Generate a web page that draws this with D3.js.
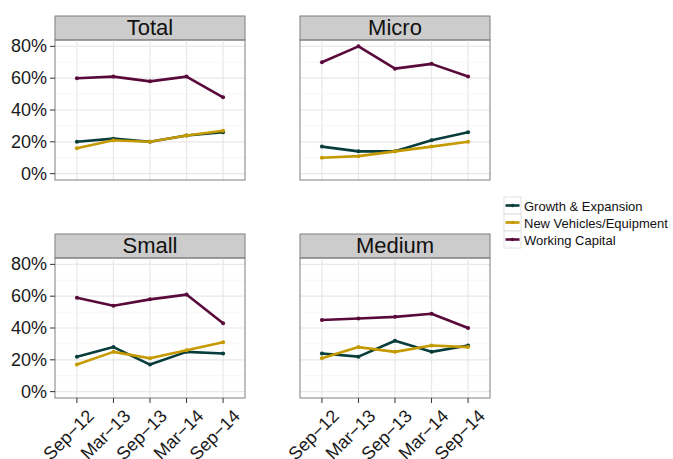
<!DOCTYPE html>
<html>
<head>
<meta charset="utf-8">
<script src="https://cdn.jsdelivr.net/npm/d3@7"></script>
<style>
  body { margin: 0; background: #fff; }
  svg { font-family: "Liberation Sans", Arial, sans-serif; }
</style>
</head>
<body>
<svg id="chart" width="673" height="459"></svg>
<script>
// data
const periods = ["Sep\u221212", "Mar\u221213", "Sep\u221213", "Mar\u221214", "Sep\u221214"]
const facets = ["Total", "Micro", "Small", "Medium"]
const seriesNames = ["Growth & Expansion", "New Vehicles/Equipment", "Working Capital"]
const seriesColors = ["#083d3b", "#c49a00", "#590a3a"]

const growth = {
    Total: [20, 22, 20, 24, 26],
    Micro: [17, 14, 14, 21, 26],
    Small: [22, 28, 17, 25, 24],
    Medium: [24, 22, 32, 25, 29],
}
const vehicles = {
    Total: [16, 21, 20, 24, 27],
    Micro: [10, 11, 14, 17, 20],
    Small: [17, 25, 21, 26, 31],
    Medium: [21, 28, 25, 29, 28],
}
const working = {
    Total: [60, 61, 58, 61, 48],
    Micro: [70, 80, 66, 69, 61],
    Small: [59, 54, 58, 61, 43],
    Medium: [45, 46, 47, 49, 40],
}
const allSeries = [growth, vehicles, working]

const yTicks = [0, 20, 40, 60, 80]
const yMinor = [10, 30, 50, 70]

// layout
const panelW = 190, panelH = 140, stripH = 24
const panelX = [55, 300]
const panelY = [40, 258]

let svg = d3.select("#chart")

let x = d3.scalePoint().domain(periods).range([0, panelW]).padding(0.6)
let y = d3.scaleLinear().domain([-4, 84]).range([panelH, 0])

let line = d3.line()
    .x((d, i) => x(periods[i]))
    .y((d) => y(d))

facets.forEach((name, fi) => {
    let col = fi % 2, row = Math.floor(fi / 2)
    let g = svg.append("g").attr("transform", "translate(" + panelX[col] + "," + panelY[row] + ")")

    // strip
    g.append("rect")
        .attr("x", 0).attr("y", -stripH)
        .attr("width", panelW).attr("height", stripH)
        .attr("fill", "#cccccc").attr("stroke", "#7f7f7f").attr("stroke-width", 1)
    g.append("text")
        .attr("x", panelW / 2).attr("y", -stripH / 2 + 1)
        .attr("text-anchor", "middle").attr("dominant-baseline", "middle")
        .attr("font-size", 22).attr("fill", "#111")
        .text(name)

    // grid
    g.selectAll("line.minor").data(yMinor).enter().append("line")
        .attr("x1", 0).attr("x2", panelW)
        .attr("y1", (d) => y(d)).attr("y2", (d) => y(d))
        .attr("stroke", "#f7f7f7").attr("stroke-width", 1)
    g.selectAll("line.majory").data(yTicks).enter().append("line")
        .attr("x1", 0).attr("x2", panelW)
        .attr("y1", (d) => y(d)).attr("y2", (d) => y(d))
        .attr("stroke", "#e8e8e8").attr("stroke-width", 1.2)
    g.selectAll("line.majorx").data(periods).enter().append("line")
        .attr("x1", (d) => x(d)).attr("x2", (d) => x(d))
        .attr("y1", 0).attr("y2", panelH)
        .attr("stroke", "#e8e8e8").attr("stroke-width", 1.2)

    // series
    allSeries.forEach((s, si) => {
        g.append("path")
            .attr("d", line(s[name]))
            .attr("fill", "none")
            .attr("stroke", seriesColors[si])
            .attr("stroke-width", 2.6)
            .attr("stroke-linejoin", "round")
        g.selectAll(null).data(s[name]).enter().append("circle")
            .attr("cx", (d, i) => x(periods[i]))
            .attr("cy", (d) => y(d))
            .attr("r", 2)
            .attr("fill", seriesColors[si])
    })

    // border
    g.append("rect")
        .attr("width", panelW).attr("height", panelH)
        .attr("fill", "none").attr("stroke", "#7f7f7f").attr("stroke-width", 1)

    // y axis on left column
    if (col == 0) {
        g.selectAll("line.ytick").data(yTicks).enter().append("line")
            .attr("x1", -5).attr("x2", 0)
            .attr("y1", (d) => y(d)).attr("y2", (d) => y(d))
            .attr("stroke", "#333").attr("stroke-width", 1)
        g.selectAll("text.ylab").data(yTicks).enter().append("text")
            .attr("x", -8).attr("y", (d) => y(d))
            .attr("text-anchor", "end").attr("dominant-baseline", "central")
            .attr("font-size", 18).attr("fill", "#1a1a1a")
            .text((d) => d + "%")
    }

    // x axis on bottom row
    if (row == 1) {
        g.selectAll("line.xtick").data(periods).enter().append("line")
            .attr("x1", (d) => x(d)).attr("x2", (d) => x(d))
            .attr("y1", panelH).attr("y2", panelH + 5)
            .attr("stroke", "#333").attr("stroke-width", 1)
        g.selectAll("text.xlab").data(periods).enter().append("text")
            .attr("transform", (d) => "translate(" + (x(d) + 9) + "," + (panelH + 10) + ") rotate(-45)")
            .attr("text-anchor", "end").attr("dominant-baseline", "hanging")
            .attr("font-size", 18).attr("fill", "#1a1a1a")
            .text((d) => d)
    }
})

// legend
let legend = svg.append("g").attr("transform", "translate(504,197)")
seriesNames.forEach((n, i) => {
    let lg = legend.append("g").attr("transform", "translate(0," + i * 17 + ")")
    lg.append("rect").attr("width", 17).attr("height", 17)
        .attr("fill", "#fff").attr("stroke", "#d9d9d9").attr("stroke-width", 0.8)
    lg.append("line").attr("x1", 1.5).attr("x2", 15.5).attr("y1", 8.5).attr("y2", 8.5)
        .attr("stroke", seriesColors[i]).attr("stroke-width", 2.6)
    lg.append("circle").attr("cx", 8.5).attr("cy", 8.5).attr("r", 1.8).attr("fill", seriesColors[i])
    lg.append("text").attr("x", 20).attr("y", 9)
        .attr("dominant-baseline", "central")
        .attr("font-size", 13).attr("fill", "#111")
        .text(n)
})
</script>
</body>
</html>
